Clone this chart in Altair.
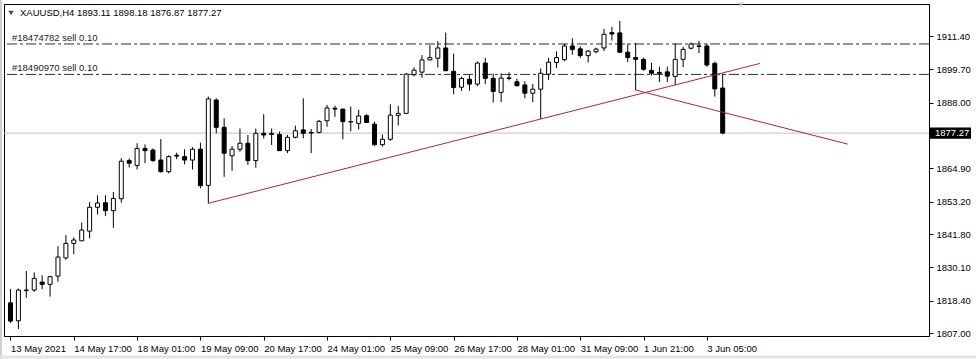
import altair as alt
import pandas as pd

# ---- data (XAUUSD, H4) ----
opens = [1817.6, 1811.3, 1821.9, 1822.1, 1824.9, 1824.1, 1827.0, 1833.4, 1838.5, 1839.4,
         1842.8, 1851.2, 1852.8, 1850.0, 1854.2, 1867.6, 1865.9, 1871.9, 1871.3, 1867.8,
         1863.7, 1869.5, 1869.0, 1867.8, 1871.6, 1858.9, 1888.9, 1879.3, 1869.3, 1871.6,
         1873.7, 1867.6, 1877.2, 1876.8, 1876.8, 1871.1, 1875.8, 1878.4, 1877.5, 1877.5,
         1881.6, 1886.0, 1885.7, 1881.3, 1880.7, 1883.4, 1880.4, 1873.2, 1875.1, 1883.5,
         1884.2, 1897.8, 1898.7, 1903.0, 1903.6, 1907.2, 1899.0, 1893.4, 1896.2, 1894.5,
         1901.9, 1896.5, 1891.6, 1896.5, 1895.3, 1894.2, 1891.3, 1892.7, 1898.0, 1902.1,
         1903.1, 1907.9, 1906.9, 1904.5, 1905.9, 1907.2, 1912.6, 1912.5, 1905.7, 1903.8,
         1903.2, 1899.3, 1898.6, 1898.8, 1897.2, 1903.2, 1907.1, 1907.9, 1907.9, 1901.8,
         1893.11]
highs = [1822.5, 1822.6, 1828.8, 1828.3, 1827.3, 1827.1, 1837.5, 1841.4, 1840.6, 1845.8,
         1853.0, 1855.4, 1855.4, 1856.6, 1868.5, 1868.4, 1873.7, 1873.3, 1871.9, 1875.2,
         1869.5, 1870.4, 1871.6, 1872.3, 1873.9, 1890.1, 1889.5, 1882.5, 1872.7, 1878.9,
         1876.6, 1878.9, 1883.9, 1878.9, 1877.8, 1876.6, 1879.9, 1889.5, 1878.7, 1881.9,
         1887.2, 1886.9, 1885.8, 1886.6, 1885.5, 1883.9, 1881.3, 1876.8, 1887.4, 1886.8,
         1898.3, 1900.4, 1904.7, 1908.2, 1909.6, 1912.6, 1905.2, 1897.1, 1897.7, 1902.4,
         1903.7, 1898.2, 1898.2, 1898.6, 1896.4, 1895.5, 1894.5, 1900.0, 1903.7, 1906.0,
         1908.7, 1910.6, 1907.8, 1906.5, 1907.3, 1913.9, 1914.6, 1916.7, 1908.7, 1908.9,
         1903.8, 1902.0, 1900.6, 1900.6, 1908.8, 1907.6, 1909.1, 1909.7, 1908.7, 1902.4,
         1898.18]
lows = [1810.5, 1808.4, 1819.4, 1821.5, 1822.4, 1819.8, 1825.0, 1832.7, 1834.7, 1839.3,
        1840.3, 1848.7, 1848.1, 1844.0, 1852.8, 1865.2, 1864.5, 1866.7, 1867.2, 1863.4,
        1863.1, 1868.1, 1866.3, 1864.5, 1857.9, 1852.6, 1877.2, 1861.9, 1864.0, 1870.7,
        1866.1, 1865.1, 1875.4, 1873.1, 1871.0, 1870.2, 1875.4, 1875.4, 1870.2, 1877.2,
        1879.5, 1883.0, 1875.1, 1877.9, 1878.5, 1881.0, 1872.7, 1872.5, 1874.5, 1880.0,
        1884.1, 1897.2, 1896.7, 1902.9, 1900.3, 1899.1, 1890.9, 1892.1, 1892.2, 1893.7,
        1894.5, 1888.0, 1888.2, 1895.8, 1893.8, 1889.5, 1888.2, 1882.2, 1895.9, 1900.1,
        1902.5, 1904.8, 1903.7, 1902.1, 1905.3, 1906.1, 1909.8, 1905.4, 1902.2, 1892.4,
        1899.2, 1897.5, 1895.2, 1895.2, 1894.2, 1900.5, 1906.7, 1905.4, 1900.6, 1890.1,
        1876.87]
closes = [1811.2, 1822.1, 1822.1, 1826.2, 1824.1, 1826.8, 1833.7, 1838.5, 1839.7, 1843.2,
          1851.2, 1852.7, 1850.0, 1854.3, 1867.4, 1866.7, 1871.9, 1871.1, 1867.6, 1863.7,
          1869.0, 1869.2, 1867.8, 1871.6, 1858.8, 1889.3, 1879.3, 1870.2, 1871.6, 1873.7,
          1867.6, 1877.2, 1876.6, 1877.2, 1871.1, 1875.8, 1878.1, 1877.2, 1877.3, 1881.4,
          1886.1, 1885.7, 1881.3, 1881.2, 1883.3, 1881.0, 1873.2, 1875.1, 1883.6, 1884.2,
          1898.0, 1899.4, 1903.0, 1903.8, 1907.2, 1899.2, 1893.3, 1896.5, 1894.5, 1901.9,
          1896.5, 1891.9, 1896.6, 1896.7, 1893.9, 1891.3, 1892.7, 1898.3, 1902.2, 1903.8,
          1907.9, 1906.7, 1904.5, 1906.1, 1906.8, 1912.0, 1912.1, 1905.7, 1903.8, 1903.2,
          1899.7, 1898.3, 1898.3, 1897.3, 1903.2, 1906.7, 1908.6, 1907.7, 1901.2, 1892.8,
          1877.27]

x_tick_labels = ["13 May 2021", "14 May 17:00", "18 May 01:00", "19 May 09:00",
                 "20 May 17:00", "24 May 01:00", "25 May 09:00", "26 May 17:00",
                 "28 May 01:00", "31 May 09:00", "1 Jun 21:00", "3 Jun 05:00"]
bars_per_label = 8
y_tick_values = [1807.00, 1818.40, 1830.10, 1841.80, 1853.20, 1864.90,
                 1888.00, 1899.70, 1911.40]
bid = 1877.27
order_names = ["#18474782 sell 0.10", "#18490970 sell 0.10"]
order_prices = [1908.6, 1897.9]
trend_names = ["up", "up", "down", "down"]
trend_bar = [25, 94.7, 79, 105.8]
trend_price = [1852.6, 1901.75, 1892.4, 1873.4]
title_text = "XAUUSD,H4  1893.11 1898.18 1876.87 1877.27"

FONT = "Liberation Sans"
W, H = 925, 332

df = pd.DataFrame({"i": list(range(len(opens))), "open": opens, "high": highs,
                   "low": lows, "close": closes})
df["top"] = df[["open", "close"]].max(axis=1)
df["bot"] = df[["open", "close"]].min(axis=1)
df["bull"] = df["close"] >= df["open"]

xs = alt.Scale(domain=[-0.1875, 115.4375], nice=False, zero=False)
ys = alt.Scale(domain=[1805.95, 1922.65], nice=False, zero=False)

label_arr = "[" + ",".join("'" + s + "'" for s in x_tick_labels) + "]"
x_axis = alt.Axis(values=[k * bars_per_label for k in range(len(x_tick_labels))],
                  labelExpr=label_arr + "[round(datum.value/" + str(bars_per_label) + ")]",
                  labelAlign="left", labelFont=FONT, labelFontSize=9.5, labelColor="black",
                  tickColor="black", tickSize=4, domainColor="black", grid=False,
                  title=None, labelPadding=3, labelFlush=False, labelOverlap=False)
y_axis = alt.Axis(orient="right", values=y_tick_values, format=".2f", labelFont=FONT,
                  labelFontSize=9.5, labelColor="black", tickColor="black", tickSize=4,
                  domainColor="black", grid=False, title=None, labelPadding=3)

base = alt.Chart(df)

wicks = base.mark_rule(color="black", strokeWidth=1, clip=True).encode(
    x=alt.X("i:Q", scale=xs, axis=x_axis),
    y=alt.Y("low:Q", scale=ys, axis=y_axis),
    y2="high:Q",
)
bodies = base.mark_bar(size=4, stroke="black", strokeWidth=1, clip=True).encode(
    x=alt.X("i:Q", scale=xs),
    y=alt.Y("bot:Q", scale=ys),
    y2="top:Q",
    fill=alt.condition("datum.bull", alt.value("white"), alt.value("black")),
)

bid_df = pd.DataFrame({"p": [bid], "label": [f"{bid:.2f}"]})
bid_line = alt.Chart(bid_df).mark_rule(color="#c0c0c0", strokeWidth=1).encode(
    y=alt.Y("p:Q", scale=ys))
bid_box = alt.Chart(bid_df).transform_calculate(
    lo="datum.p - 1.95", hi="datum.p + 1.95"
).mark_rect(color="black").encode(
    x=alt.value(926), x2=alt.value(967),
    y=alt.Y("lo:Q", scale=ys), y2="hi:Q")
bid_text = alt.Chart(bid_df).mark_text(color="white", font=FONT, fontSize=9.5,
                                       align="left", baseline="middle").encode(
    x=alt.value(931), y=alt.Y("p:Q", scale=ys), text="label:N")

ord_df = pd.DataFrame({"name": order_names, "p": order_prices})
ord_lines = alt.Chart(ord_df).mark_rule(color="#203a20", strokeWidth=1,
                                        strokeDash=[10, 3, 3, 3]).encode(
    y=alt.Y("p:Q", scale=ys))
ord_text = alt.Chart(ord_df).mark_text(color="#222", font=FONT, fontSize=9.5,
                                       align="left", baseline="alphabetic", dy=-3).encode(
    x=alt.value(8), y=alt.Y("p:Q", scale=ys), text="name:N")

tr_df = pd.DataFrame({"name": trend_names, "i": trend_bar, "p": trend_price})
trends = alt.Chart(tr_df).mark_line(color="#b02828", strokeWidth=1, clip=True).encode(
    x=alt.X("i:Q", scale=xs), y=alt.Y("p:Q", scale=ys), detail="name:N")

title_df = pd.DataFrame({"t": [title_text]})
title_tri = alt.Chart(title_df).mark_point(shape="triangle-down", filled=True,
                                           color="black", size=30).encode(
    x=alt.value(7), y=alt.value(9))
title_mark = alt.Chart(title_df).mark_text(color="black", font=FONT, fontSize=9.5,
                                           align="left", baseline="middle").encode(
    x=alt.value(16), y=alt.value(9), text="t:N")
shift_tri = alt.Chart(title_df).mark_point(shape="triangle-down", filled=True,
                                           color="#c8c8c8", size=40).encode(
    x=alt.value(737), y=alt.value(1))
# thin grey window frame (left edge and bottom strip of the terminal window)
frame_left = alt.Chart(title_df).mark_rule(color="#d0d0d0", strokeWidth=2).encode(
    x=alt.value(-3), y=alt.value(-4), y2=alt.value(355))
frame_bottom = alt.Chart(title_df).mark_rule(color="#e4e4e4", strokeWidth=3).encode(
    x=alt.value(-4), x2=alt.value(972), y=alt.value(353))

chart = alt.layer(
    frame_left, frame_bottom,
    bid_line, ord_lines, wicks, bodies, trends, ord_text, bid_box, bid_text,
    title_tri, title_mark, shift_tri
).properties(
    width=W, height=H,
    autosize=alt.AutoSizeParams(type="none"),
    padding={"left": 4, "top": 4, "right": 47, "bottom": 23},
    background="white",
).configure_view(stroke="black", strokeWidth=1)

chart.save("out.html", embed_options={"renderer": "svg", "actions": False})
